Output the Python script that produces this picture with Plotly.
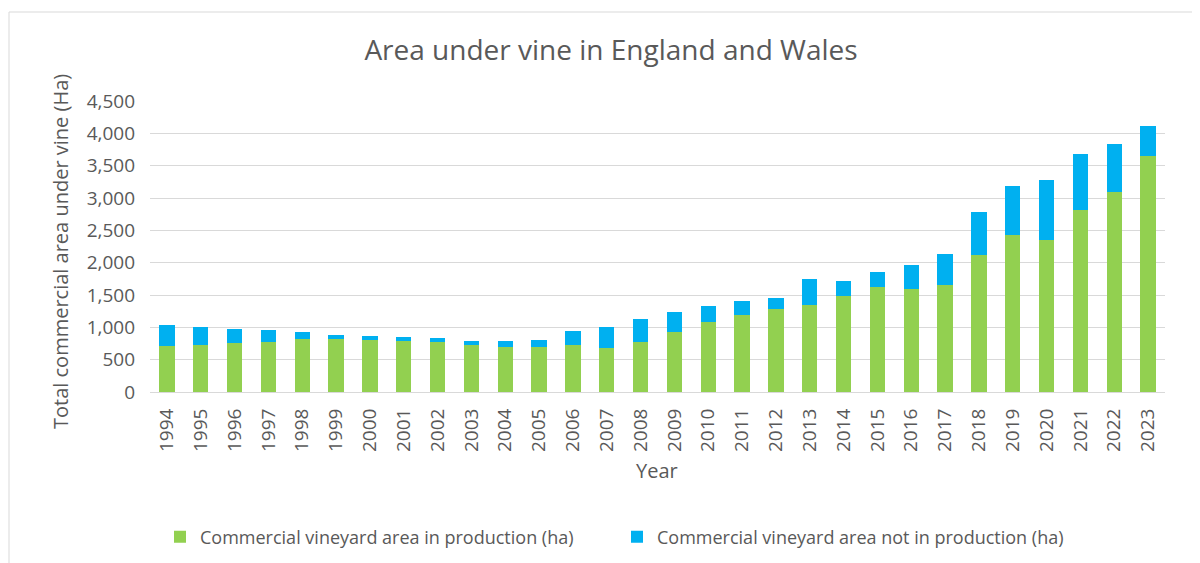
import plotly.graph_objects as go

years = [str(y) for y in range(1994, 2024)]
in_production = [717, 732, 752, 768, 820, 820, 805, 784, 768, 732, 701, 701, 732, 681, 768,
                 923, 1077, 1195, 1283, 1350, 1489, 1628, 1598, 1659, 2125, 2422, 2355, 2820, 3093, 3644]
total = [1042, 1006, 975, 954, 923, 887, 871, 851, 836, 784, 784, 805, 938, 1006, 1130,
         1232, 1336, 1401, 1454, 1747, 1711, 1850, 1969, 2139, 2780, 3190, 3278, 3675, 3835, 4108]
not_in_production = [t - p for t, p in zip(total, in_production)]

FONT = "Open Sans"
GREY = "#595959"

# page offset of the figure (browser body margin)
OFF = 8
W, H = 1192, 555
L, R, T, B = 150 - OFF, 1165 - OFF, 101 - OFF, 392 - OFF
PW, PH = R - L, B - T


def px(x):
    return (x - OFF - L) / PW


def py(y):
    return (B - (y - OFF)) / PH


fig = go.Figure()
fig.add_trace(go.Bar(x=years, y=in_production, name="Commercial vineyard area in production (ha)",
                     marker=dict(color="#92D050", line=dict(width=0))))
fig.add_trace(go.Bar(x=years, y=not_in_production, name="Commercial vineyard area not in production (ha)",
                     marker=dict(color="#00B0F0", line=dict(width=0))))

fig.update_layout(
    barmode="stack",
    bargap=0.55,
    width=W, height=H,
    margin=dict(l=L, r=W - R, t=T, b=H - B, pad=0, autoexpand=False),
    paper_bgcolor="white", plot_bgcolor="white",
    font=dict(family=FONT, color=GREY, size=18),
    title=dict(text="Area under vine in England and Wales", x=(611 - OFF) / W, xanchor="center",
               y=1 - (50 - OFF) / H, yanchor="middle", font=dict(size=28, color=GREY, family=FONT)),
    legend=dict(orientation="h", x=px(160), xanchor="left", y=py(537), yanchor="middle",
                font=dict(size=18, color=GREY), itemwidth=30, entrywidth=412,
                traceorder="normal"),
    xaxis=dict(type="category", tickangle=-90, showgrid=False, showline=True, linecolor="#d9d9d9",
               linewidth=1, ticks="", ticklabelstandoff=8, automargin=False,
               tickfont=dict(size=19, color=GREY)),
    yaxis=dict(range=[0, 4500], dtick=500, tickformat=",", showgrid=True, gridcolor="#d9d9d9",
               gridwidth=1, zeroline=False, showline=False, ticks="", ticklabelstandoff=14,
               automargin=False, tickfont=dict(size=19, color=GREY)),
    annotations=[
        dict(text="Total commercial area under vine (Ha)", xref="paper", yref="paper",
             x=px(61), y=py(252), textangle=-90, showarrow=False,
             xanchor="center", yanchor="middle", font=dict(size=20, color=GREY)),
        dict(text="Year", xref="paper", yref="paper", x=px(657),
             y=py(470), showarrow=False, xanchor="center", yanchor="middle",
             font=dict(size=20, color=GREY)),
    ],
    shapes=[dict(type="rect", xref="paper", yref="paper",
                 x0=px(9), x1=px(1199),
                 y0=py(575), y1=py(12),
                 line=dict(color="#d9d9d9", width=1), layer="below")],
)

fig.write_html("out.html")
